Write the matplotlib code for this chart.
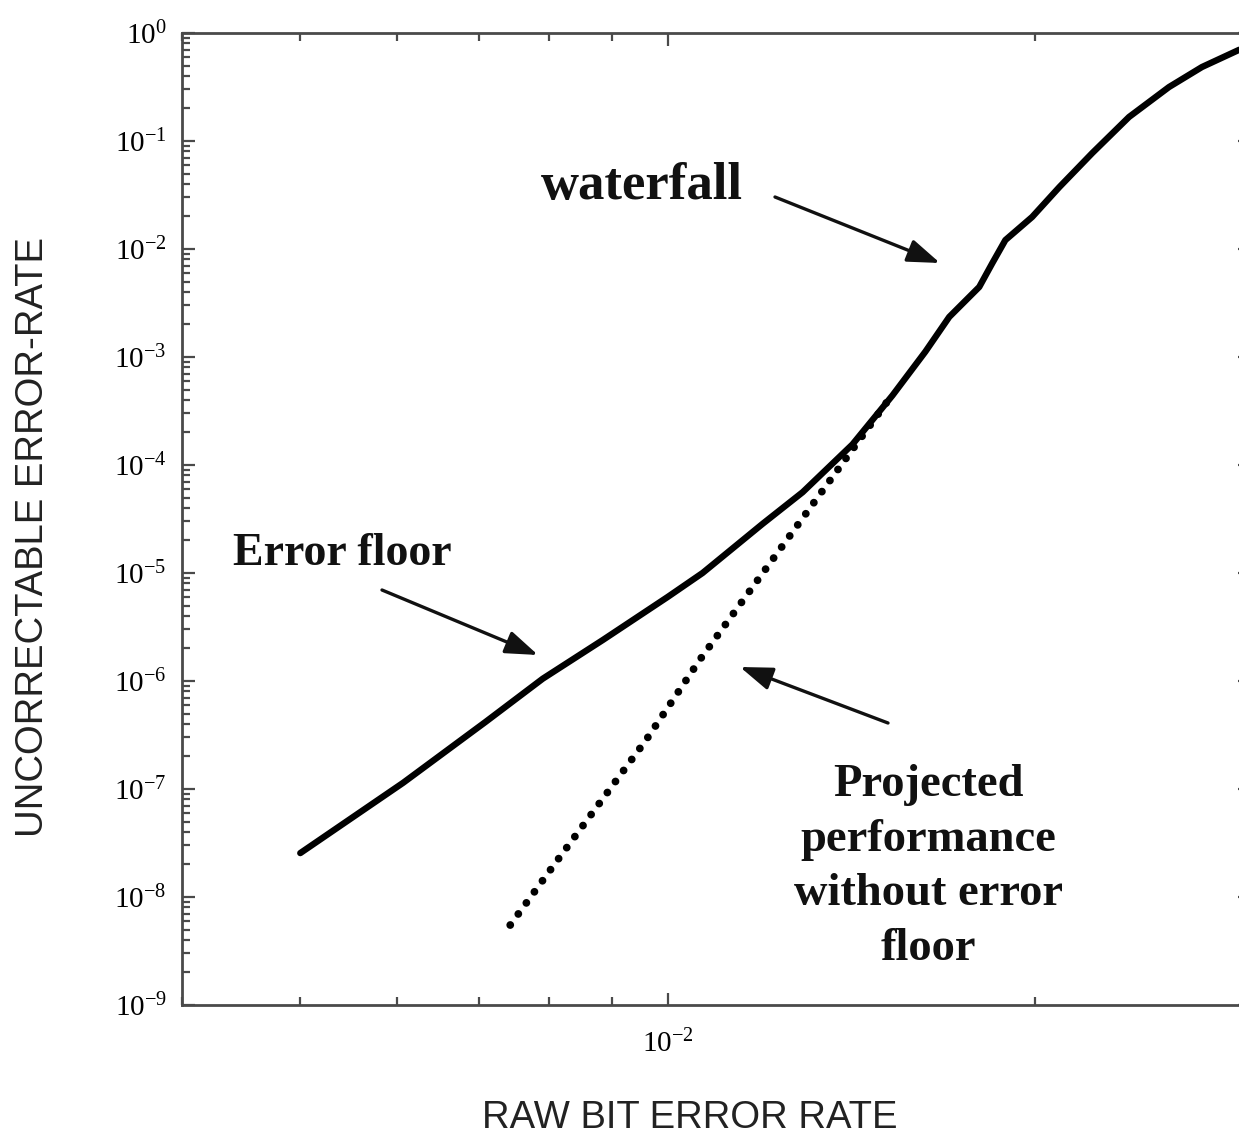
import matplotlib
matplotlib.use("Agg")
import matplotlib.pyplot as plt
from matplotlib.ticker import LogLocator, NullFormatter, FuncFormatter
import numpy as np

# ---- data ----
raw_ber_measured = [5.0e-3, 6.07e-3, 7.09e-3, 7.9e-3, 8.85e-3, 1.0e-2, 1.068e-2,
                    1.196e-2, 1.29e-2, 1.417e-2, 1.528e-2, 1.626e-2, 1.701e-2,
                    1.80e-2, 1.845e-2, 1.891e-2, 1.989e-2, 2.094e-2, 2.228e-2,
                    2.388e-2, 2.575e-2, 2.74e-2, 2.94e-2]
uer_measured = [2.55e-8, 1.14e-7, 4.17e-7, 1.05e-6, 2.4e-6, 6.0e-6, 1.0e-5,
                2.85e-5, 5.6e-5, 1.55e-4, 4.4e-4, 1.12e-3, 2.35e-3,
                4.45e-3, 7.4e-3, 1.21e-2, 1.98e-2, 3.75e-2, 7.74e-2,
                0.167, 0.316, 0.484, 0.70]

raw_ber_projected = [7.43e-3, 8.09e-3, 9.6e-3, 1.062e-2, 1.528e-2]
uer_projected = [5.5e-9, 2.06e-8, 2.84e-7, 1.56e-6, 4.5e-4]

x_limits = (4e-3, 3e-2)
y_limits = (1e-9, 1.0)

x_label = "RAW BIT ERROR RATE"
y_label = "UNCORRECTABLE ERROR-RATE"
label_waterfall = "waterfall"
label_floor = "Error floor"
label_projected = "Projected\nperformance\nwithout error\nfloor"

# ---- style ----
plt.rcParams['mathtext.fontset'] = 'custom'
plt.rcParams['mathtext.rm'] = 'Liberation Serif'
plt.rcParams['mathtext.it'] = 'Liberation Serif:italic'
plt.rcParams['mathtext.bf'] = 'Liberation Serif:bold'

W, H = 1239, 1137
DPI = 100
fig = plt.figure(figsize=(W / DPI, H / DPI), dpi=DPI)

def fx(px):
    return px / W

def fy(py):
    return 1 - py / H

ax_left, ax_right, ax_top, ax_bottom = 182, 1250, 33, 1005
ax = fig.add_axes([fx(ax_left), fy(ax_bottom), (ax_right - ax_left) / W, (ax_bottom - ax_top) / H])

ax.set_xscale('log')
ax.set_yscale('log')
ax.set_xlim(*x_limits)
ax.set_ylim(*y_limits)

ax.plot(raw_ber_measured, uer_measured, color='black', lw=4.6,
        solid_capstyle='round', solid_joinstyle='round')
ax.plot(raw_ber_projected, uer_projected, color='black', lw=5.6,
        linestyle=(0, (0.01, 1.75)), dash_capstyle='round')

spine_color = '#4a4a4a'
for s in ax.spines.values():
    s.set_color(spine_color)
    s.set_linewidth(2.0)

ax.xaxis.set_major_locator(LogLocator(base=10, numticks=20))
ax.xaxis.set_minor_locator(LogLocator(base=10, subs=np.arange(2, 10), numticks=20))
ax.yaxis.set_major_locator(LogLocator(base=10, numticks=20))
ax.yaxis.set_minor_locator(LogLocator(base=10, subs=np.arange(2, 10), numticks=20))

fmt = FuncFormatter(lambda v, p: r'$10^{%d}$' % int(round(np.log10(v))))
ax.xaxis.set_major_formatter(fmt)
ax.yaxis.set_major_formatter(fmt)
ax.xaxis.set_minor_formatter(NullFormatter())
ax.yaxis.set_minor_formatter(NullFormatter())

ax.tick_params(which='both', direction='in', top=True, right=True,
               color=spine_color, width=1.6, labelsize=21, labelcolor='black')
ax.tick_params(which='major', length=9)
ax.tick_params(which='minor', length=6)
ax.tick_params(axis='y', which='major', pad=11)
ax.tick_params(axis='x', which='major', pad=18)
for lbl in ax.get_yticklabels():
    lbl.set_verticalalignment('center_baseline')

# axis titles
fig.text(fx(690), fy(1118), x_label, ha='center', va='center',
         fontsize=27.5, family='Liberation Sans', color='#222222')
fig.text(fx(33), fy(537), y_label, ha='center', va='center', rotation=90,
         fontsize=27.5, family='Liberation Sans', color='#222222')

# annotations
tkw = dict(family='Liberation Serif', fontweight='bold', color='#111111')
fig.text(fx(642), fy(186), label_waterfall, ha='center', va='center', fontsize=38, **tkw)
fig.text(fx(342), fy(554), label_floor, ha='center', va='center', fontsize=33, **tkw)
fig.text(fx(928), fy(867), label_projected, ha='center', va='center', fontsize=33.5,
         linespacing=1.4, **tkw)

akw = dict(arrowstyle='-|>,head_length=0.9,head_width=0.32', color='#111111', lw=2.4,
           shrinkA=0, shrinkB=0, mutation_scale=22)

def arrow(x0, y0, x1, y1):
    fig.add_artist(matplotlib.patches.FancyArrowPatch(
        (fx(x0), fy(y0)), (fx(x1), fy(y1)), transform=fig.transFigure, **akw))

arrow(775, 197, 940, 263)
arrow(382, 590, 538, 655)
arrow(888, 723, 740, 667)

fig.savefig('out.png', dpi=DPI)
